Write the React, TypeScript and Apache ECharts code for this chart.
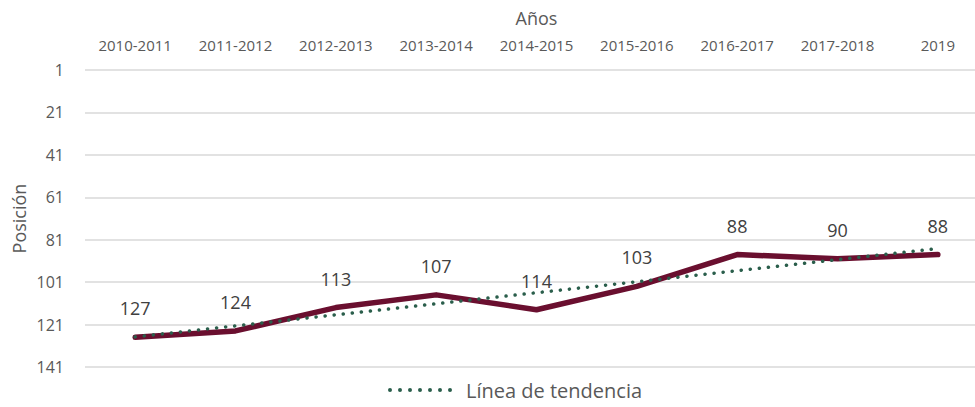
import React, { useEffect, useRef } from "react";
import * as echarts from "echarts";

const categories = ["2010-2011", "2011-2012", "2012-2013", "2013-2014", "2014-2015", "2015-2016", "2016-2017", "2017-2018", "2019"];
const positions = [127, 124, 113, 107, 114, 103, 88, 90, 88];
const trendValues = [126.8, 121.6, 116.4, 111.2, 106.0, 100.8, 95.6, 90.4, 85.2];
const yMin = 1;
const yMax = 141;
const yStep = 20;

const FONT = "'Open Sans', 'Noto Sans', sans-serif";
const GREY = "#595959";

const dotsIcon = (() => {
  let d = "path://";
  for (let i = 0; i < 7; i++) {
    const cx = 2 + i * 10;
    d += `M${cx - 2},2a2,2 0 1,0 4,0a2,2 0 1,0 -4,0Z`;
  }
  return d;
})();

export default function App() {
  const ref = useRef<HTMLDivElement>(null);
  useEffect(() => {
    if (!ref.current) return;
    const chart = echarts.init(ref.current, undefined, { renderer: "svg" });
    const shift = (v: number) => v - yMin;
    chart.setOption({
      animation: false,
      textStyle: { fontFamily: FONT },
      grid: { left: 85, top: 70, width: 903, height: 297, containLabel: false, outerBoundsMode: "none" },
      legend: {
        data: [{ name: "Línea de tendencia", icon: dotsIcon }],
        bottom: 2,
        left: 383,
        itemWidth: 64,
        itemHeight: 4,
        itemGap: 10,
        itemStyle: { color: "#2a5e4b" },
        textStyle: { fontFamily: FONT, fontSize: 20, color: GREY, padding: [0, 0, 0, 9] },
      },
      xAxis: {
        type: "category",
        position: "top",
        data: categories,
        boundaryGap: true,
        name: "Años",
        nameLocation: "middle",
        nameGap: 43,
        nameMoveOverlap: false,
        nameTextStyle: { fontFamily: FONT, fontSize: 18, color: GREY },
        axisLine: { show: false },
        axisTick: { show: false },
        axisLabel: { fontFamily: FONT, fontSize: 15, color: GREY, margin: 18, interval: 0 },
      },
      yAxis: {
        type: "value",
        inverse: true,
        min: 0,
        max: yMax - yMin,
        interval: yStep,
        name: "Posición",
        nameLocation: "middle",
        nameGap: 57,
        nameMoveOverlap: false,
        nameRotate: 90,
        nameTextStyle: { fontFamily: FONT, fontSize: 18, color: GREY },
        axisLine: { show: false },
        axisTick: { show: false },
        axisLabel: {
          fontFamily: FONT,
          fontSize: 16,
          color: GREY,
          margin: 21,
          formatter: (v: number) => String(v + yMin),
        },
        splitLine: { lineStyle: { color: "#d9d9d9", width: 1.5 } },
      },
      series: [
        {
          name: "Posición",
          type: "line",
          data: positions.map(shift),
          symbol: "circle",
          symbolSize: 0,
          showSymbol: true,
          lineStyle: { color: "#6a0f2f", width: 5.5, cap: "round", join: "round" },
          itemStyle: { color: "#6a0f2f" },
          label: {
            show: true,
            position: "top",
            distance: 20,
            fontFamily: FONT,
            fontSize: 18,
            color: "#404040",
            formatter: (p: any) => String(positions[p.dataIndex]),
          },
          z: 2,
        },
        {
          name: "Línea de tendencia",
          type: "line",
          data: trendValues.map(shift),
          symbol: "none",
          lineStyle: { color: "#2a5e4b", width: 3.5, type: [0.1, 9], cap: "round" },
          itemStyle: { color: "#2a5e4b" },
          z: 3,
        },
      ],
    });
    return () => chart.dispose();
  }, []);
  return (
    <div
      ref={ref}
      style={{ position: "fixed", left: 0, top: 0, width: 975, height: 407, background: "#fff" }}
    />
  );
}
